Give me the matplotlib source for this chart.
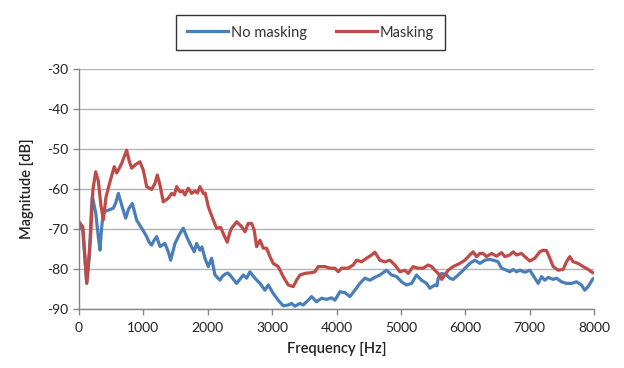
import matplotlib
matplotlib.use("Agg")
import matplotlib.pyplot as plt

# Data
freq_mask = [0, 60, 120, 180, 215, 259, 300, 340, 378, 420, 481, 548, 585, 620, 663, 700, 740, 780, 818, 870,
             947, 999, 1051, 1129, 1180, 1216, 1258, 1309, 1387, 1439, 1480, 1517, 1568, 1610, 1646, 1697, 1750,
             1800, 1840, 1879, 1930, 1960, 2008, 2085, 2138, 2200, 2251, 2303, 2340, 2371, 2449, 2526, 2578, 2629,
             2682, 2722, 2759, 2811, 2862, 2914, 2966, 3017, 3095, 3172, 3250, 3328, 3380, 3432, 3509, 3613, 3665,
             3716, 3820, 3898, 3975, 4027, 4079, 4182, 4259, 4312, 4390, 4467, 4545, 4596, 4674, 4752, 4829, 4907,
             4984, 5062, 5114, 5190, 5269, 5346, 5424, 5477, 5528, 5580, 5632, 5683, 5735, 5812, 5916, 5994, 6071,
             6122, 6175, 6227, 6278, 6330, 6408, 6485, 6563, 6615, 6692, 6744, 6796, 6874, 6925, 7003, 7081, 7158,
             7210, 7262, 7314, 7366, 7443, 7521, 7573, 7624, 7676, 7754, 7831, 7909, 7977, 8000]
mag_mask = [-68.2, -69.5, -83.6, -72.0, -60.3, -55.7, -58.0, -64.0, -67.7, -62.0, -58.2, -54.4, -56.0, -55.0,
            -53.6, -52.0, -50.3, -53.0, -54.8, -54.0, -53.2, -55.3, -59.4, -60.1, -58.6, -56.5, -59.0, -63.2,
            -62.3, -61.1, -61.5, -59.4, -60.7, -60.5, -61.5, -59.8, -61.1, -60.5, -61.0, -59.4, -61.1, -61.0,
            -64.4, -67.75, -69.8, -69.6, -71.5, -73.3, -71.0, -69.8, -68.2, -69.4, -70.7, -68.6, -68.6, -70.3,
            -74.4, -72.8, -74.8, -74.8, -76.9, -78.6, -79.4, -81.9, -84.0, -84.4, -82.8, -81.5, -81.1, -80.9,
            -80.7, -79.4, -79.4, -79.8, -79.8, -80.7, -79.8, -79.8, -79.0, -77.8, -78.2, -77.3, -76.5, -75.8,
            -77.8, -78.2, -77.8, -79.0, -80.7, -80.3, -81.1, -79.4, -79.8, -79.8, -79.0, -79.4, -80.3, -81.1,
            -82.6, -81.5, -80.3, -79.4, -78.6, -77.8, -76.5, -75.7, -76.9, -76.1, -76.1, -76.9, -76.1, -76.8,
            -75.9, -76.9, -76.5, -75.7, -76.5, -76.1, -76.9, -78.0, -77.3, -75.7, -75.3, -75.4, -77.3, -79.4,
            -80.3, -80.1, -78.2, -76.9, -78.2, -78.6, -79.4, -80.1, -80.9, -81.0]

freq_nomask = [0, 60, 120, 160, 190, 207, 260, 300, 326, 350, 378, 455, 533, 570, 611, 663, 725, 770, 828, 896,
               973, 1000, 1051, 1080, 1102, 1129, 1160, 1206, 1258, 1335, 1387, 1424, 1491, 1568, 1620, 1672,
               1734, 1790, 1827, 1879, 1910, 1956, 2008, 2060, 2112, 2189, 2230, 2267, 2310, 2345, 2449, 2552,
               2604, 2655, 2733, 2811, 2888, 2940, 3017, 3095, 3172, 3250, 3302, 3354, 3432, 3483, 3561, 3613,
               3690, 3768, 3846, 3923, 3975, 4053, 4130, 4208, 4286, 4363, 4441, 4519, 4596, 4674, 4778, 4856,
               4933, 5011, 5088, 5166, 5243, 5321, 5399, 5450, 5528, 5560, 5580, 5632, 5710, 5761, 5812, 5890,
               5968, 6071, 6149, 6227, 6304, 6382, 6460, 6510, 6563, 6640, 6692, 6744, 6796, 6848, 6925, 7003,
               7081, 7133, 7185, 7236, 7288, 7366, 7417, 7495, 7573, 7650, 7728, 7805, 7857, 7909, 7977, 8000]
mag_nomask = [-68.5, -70.5, -83.5, -77.0, -66.0, -61.9, -66.0, -72.0, -75.3, -70.0, -65.7, -65.3, -64.8, -63.5,
              -61.1, -64.0, -67.3, -65.0, -63.6, -67.8, -69.8, -70.5, -71.9, -73.0, -73.6, -74.0, -73.0, -71.9,
              -74.4, -73.6, -75.7, -77.8, -73.6, -71.1, -69.8, -71.9, -74.0, -75.7, -73.6, -75.3, -74.5, -77.3,
              -79.4, -77.3, -81.5, -82.8, -81.8, -81.3, -81.0, -81.5, -83.6, -81.5, -82.3, -80.7, -82.3, -83.6,
              -85.3, -84.0, -86.1, -87.8, -89.2, -89.0, -88.6, -89.3, -88.6, -89.0, -87.8, -86.9, -88.2, -87.3,
              -87.6, -87.2, -87.8, -85.7, -85.9, -86.9, -85.3, -83.6, -82.3, -82.8, -82.1, -81.5, -80.3, -81.5,
              -81.9, -83.2, -84.0, -83.6, -81.5, -82.8, -83.6, -84.8, -84.0, -84.2, -82.3, -81.1, -81.5, -82.3,
              -82.6, -81.5, -80.3, -78.6, -77.8, -78.6, -77.8, -77.6, -77.9, -78.2, -79.8, -80.3, -80.7, -80.1,
              -80.7, -80.3, -80.8, -80.3, -82.3, -83.6, -81.9, -82.8, -82.1, -82.6, -82.3, -83.2, -83.6, -83.6,
              -83.2, -84.0, -85.3, -84.4, -82.6, -82.3]

series_labels = ["No masking", "Masking"]
x_ticks = [0, 1000, 2000, 3000, 4000, 5000, 6000, 7000, 8000]
y_ticks = [-90, -80, -70, -60, -50, -40, -30]

plt.rcParams['font.family'] = ['Lato', 'DejaVu Sans']

fig = plt.figure(figsize=(6.24, 3.68), dpi=100)
ax = fig.add_axes([79/624, 1 - 309/368, (594-79)/624, (309-69)/368])

blue = '#4a7ebb'
red = '#be4b48'
l1, = ax.plot(freq_nomask, mag_nomask, color=blue, lw=2.3, label=series_labels[0], solid_joinstyle='round')
l2, = ax.plot(freq_mask, mag_mask, color=red, lw=2.3, label=series_labels[1], solid_joinstyle='round')

ax.set_xlim(0, 8000)
ax.set_ylim(-90, -30)
ax.set_xticks(x_ticks)
ax.set_yticks(y_ticks)
ax.set_xticklabels([str(t) for t in x_ticks])
ax.set_yticklabels([str(t) for t in y_ticks])
ax.grid(axis='y', color='#b3b3b3', lw=1)
ax.set_axisbelow(True)
for s in ['top', 'right']:
    ax.spines[s].set_visible(False)
for s in ['left', 'bottom']:
    ax.spines[s].set_color('#868686')
    ax.spines[s].set_linewidth(1)
ax.tick_params(axis='both', labelsize=10, colors='#868686', labelcolor='#222222', length=4, width=1)
ax.tick_params(axis='x', pad=5)
ax.tick_params(axis='y', pad=4)

ax.set_xlabel("Frequency [Hz]", fontsize=10.5, fontweight='semibold', labelpad=6, color='#222222')
ax.set_ylabel("Magnitude [dB]", fontsize=10.5, fontweight='semibold', labelpad=9, color='#222222')

leg = fig.legend(handles=[l1, l2], loc='center', bbox_to_anchor=(310.5/624, 1 - 32.5/368), ncol=2,
                 frameon=True, fancybox=False, edgecolor='black', fontsize=10.5,
                 handlelength=2.8, handletextpad=0.2, columnspacing=2.0, borderpad=0.75)
leg.get_frame().set_linewidth(1)
for t in leg.get_texts():
    t.set_color('#333333')

fig.savefig("out.png", dpi=100)
